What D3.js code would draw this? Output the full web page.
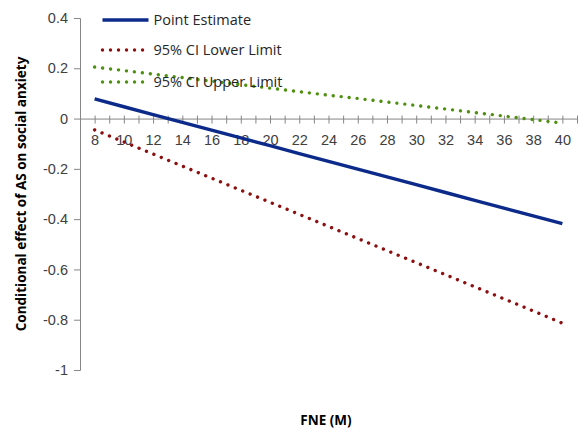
<html lang="en">
<head>
  <meta charset="UTF-8"/>
  <title>Conditional effect of AS</title>
  <script src="https://d3js.org/d3.v7.min.js"></script>
  <style>
  body {
    margin: 0;
    background: #fff;
  }
  svg {
    font-family: "Open Sans", sans-serif;
  }
  .tick text {
    font-size: 14.5px;
    fill: #404040;
  }
  .title {
    font-weight: bold;
    fill: #000;
  }
  .legend text {
    font-size: 14.5px;
    fill: #262626;
  }
  </style>
</head>
<body>
<script>
  // values, one per even FNE value
  var fne = [8, 10, 12, 14, 16, 18, 20, 22, 24, 26, 28, 30, 32, 34, 36, 38, 40];
  var pointEstimate = [0.078, 0.047, 0.016, -0.015, -0.046, -0.077, -0.108, -0.139, -0.170,
                       -0.201, -0.232, -0.263, -0.294, -0.325, -0.356, -0.387, -0.418];
  var lowerLimit = [-0.045, -0.093, -0.141, -0.189, -0.237, -0.285, -0.333, -0.381, -0.429,
                    -0.477, -0.525, -0.573, -0.621, -0.669, -0.717, -0.765, -0.814];
  var upperLimit = [0.205, 0.191, 0.177, 0.163, 0.149, 0.135, 0.121, 0.107, 0.093,
                    0.080, 0.066, 0.052, 0.038, 0.024, 0.010, -0.004, -0.018];
  var yTicks = [0.4, 0.2, 0, -0.2, -0.4, -0.6, -0.8, -1];
  var seriesNames = ["Point Estimate", "95% CI Lower Limit", "95% CI Upper Limit"];

  var width = 582, height = 429;

  var series = [
    {name: seriesNames[0], values: pointEstimate, color: "#0c2a8a", dash: null},
    {name: seriesNames[1], values: lowerLimit, color: "#8c1010", dash: "0.01 8"},
    {name: seriesNames[2], values: upperLimit, color: "#4f9010", dash: "0.01 8"}
  ];

  var x = d3.scaleLinear().domain([7, 41]).range([80, 577]);
  var y = d3.scaleLinear().domain([-1, 0.4]).range([370, 18]);

  var svg = d3.select("body").append("svg")
    .attr("width", width)
    .attr("height", height);

  // y axis, plain hyphen minus like the original
  svg.append("g")
    .attr("transform", "translate(" + x(7) + ",0)")
    .call(d3.axisLeft(y).tickValues(yTicks).tickSize(6).tickPadding(6)
      .tickFormat(function(d) { return String(+d.toFixed(1)); }))
    .call(function(g) {
      g.selectAll("line, path").attr("stroke", "#868686");
    });

  // x axis crosses at 0, ticks on every FNE value, labels on even ones
  var xAxis = svg.append("g")
    .attr("transform", "translate(0," + y(0) + ")")
    .call(d3.axisBottom(x).tickValues(d3.range(8, 42)).tickSize(5).tickSizeOuter(0).tickPadding(11)
      .tickFormat(function(d) { return d % 2 == 0 && d <= 40 ? d : ""; }));
  xAxis.selectAll("line, path").attr("stroke", "#868686");
  xAxis.selectAll(".tick line").attr("y1", -3);

  var line = d3.line()
    .x(function(d, i) { return x(fne[i]); })
    .y(function(d) { return y(d); });

  svg.selectAll(".series")
    .data(series)
    .enter().append("path")
    .attr("class", "series")
    .attr("fill", "none")
    .attr("stroke", function(d) { return d.color; })
    .attr("stroke-width", 3.4)
    .attr("stroke-linecap", function(d) { return d.dash ? "round" : "butt"; })
    .attr("stroke-dasharray", function(d) { return d.dash; })
    .attr("d", function(d) { return line(d.values); });

  // legend, top left inside the plot
  var legendY = [20, 50, 82];
  var legend = svg.selectAll(".legend")
    .data(series)
    .enter().append("g")
    .attr("class", "legend")
    .attr("transform", function(d, i) { return "translate(102.5," + legendY[i] + ")"; });

  legend.append("line")
    .attr("x1", 0)
    .attr("x2", function(d) { return d.dash ? 41 : 46; })
    .attr("stroke", function(d) { return d.color; })
    .attr("stroke-width", 3.4)
    .attr("stroke-linecap", function(d) { return d.dash ? "round" : "butt"; })
    .attr("stroke-dasharray", function(d) { return d.dash; });

  legend.append("text")
    .attr("x", 51)
    .attr("dy", "0.35em")
    .text(function(d) { return d.name; });

  svg.append("text")
    .attr("class", "title")
    .attr("transform", "translate(26,194) rotate(-90)")
    .attr("text-anchor", "middle")
    .style("font-size", "13.5px")
    .text("Conditional  effect of AS on social anxiety");

  svg.append("text")
    .attr("class", "title")
    .attr("x", 326)
    .attr("y", 425)
    .attr("text-anchor", "middle")
    .style("font-size", "13.5px")
    .text("FNE (M)");
</script>
</body>
</html>
